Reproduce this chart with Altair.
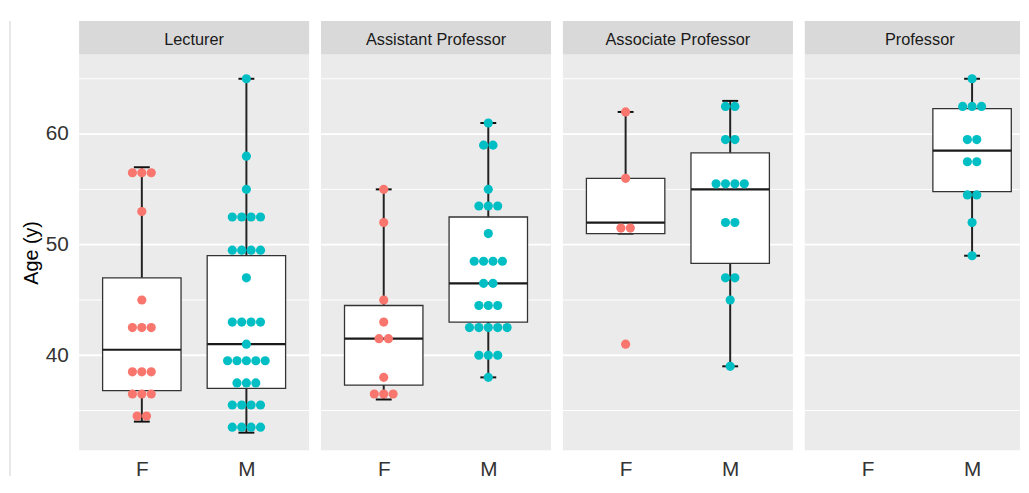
import altair as alt
import pandas as pd

# ---------------- data ----------------
ranks = ["Lecturer", "Assistant Professor", "Associate Professor", "Professor"]
sexes = ["F", "M"]
sex_colors = ["#F8766D", "#00BFC4"]

# dot values (as stacked in the dot plot)
lecturer_f = [56.5, 56.5, 56.5, 53, 45, 42.5, 42.5, 42.5, 38.5, 38.5, 38.5,
              36.5, 36.5, 36.5, 34.5, 34.5]
lecturer_m = [65, 58, 55, 52.5, 52.5, 52.5, 52.5, 49.5, 49.5, 49.5, 49.5, 47,
              43, 43, 43, 43, 41, 39.5, 39.5, 39.5, 39.5, 39.5, 37.5, 37.5, 37.5,
              35.5, 35.5, 35.5, 35.5, 33.5, 33.5, 33.5, 33.5]
assistant_f = [55, 52, 45, 43, 41.5, 41.5, 38, 36.5, 36.5, 36.5]
assistant_m = [61, 59, 59, 55, 53.5, 53.5, 53.5, 51, 48.5, 48.5, 48.5, 48.5,
               46.5, 46.5, 44.5, 44.5, 44.5, 42.5, 42.5, 42.5, 42.5, 42.5,
               40, 40, 40, 38]
associate_f = [62, 56, 51.5, 51.5, 41]
associate_m = [62.5, 62.5, 59.5, 59.5, 55.5, 55.5, 55.5, 55.5, 52, 52, 47, 47, 45, 39]
professor_f = []
professor_m = [65, 62.5, 62.5, 62.5, 59.5, 59.5, 57.5, 57.5, 54.5, 54.5, 52, 49]

# box plot statistics
box_rank = ["Lecturer", "Lecturer", "Assistant Professor", "Assistant Professor",
            "Associate Professor", "Associate Professor", "Professor"]
box_sex = ["F", "M", "F", "M", "F", "M", "M"]
whisker_low = [34, 33, 36, 38, 51, 39, 49]
q1 = [36.8, 37.0, 37.3, 43.0, 51.0, 48.3, 54.8]
median = [40.5, 41.0, 41.5, 46.5, 52.0, 55.0, 58.5]
q3 = [47.0, 49.0, 44.5, 52.5, 56.0, 58.3, 62.3]
whisker_high = [57, 65, 55, 61, 62, 63, 65]

major_grid = [40, 50, 60]
minor_grid = [35, 45, 55, 65]
y_ticks = [40, 50, 60]

# ---------------- tables ----------------
dot_lists = {
    ("Lecturer", "F"): lecturer_f, ("Lecturer", "M"): lecturer_m,
    ("Assistant Professor", "F"): assistant_f, ("Assistant Professor", "M"): assistant_m,
    ("Associate Professor", "F"): associate_f, ("Associate Professor", "M"): associate_m,
    ("Professor", "F"): professor_f, ("Professor", "M"): professor_m,
}
rows = []
for (r, s), vals in dot_lists.items():
    for v in vals:
        rows.append({"rank": r, "sex": s, "age": v})
dots_df = pd.DataFrame(rows)

box_df = pd.DataFrame({"rank": box_rank, "sex": box_sex, "lo": whisker_low,
                       "q1": q1, "med": median, "q3": q3, "hi": whisker_high})
major_df = pd.DataFrame({"v": major_grid})
minor_df = pd.DataFrame({"v": minor_grid})

FONT = "Liberation Sans"
W = 233
W_LAST = 218
H = 401
Y_DOMAIN = [31.4, 67.2]
HALF_BOX = 0.375
HALF_CAP = 0.076
DOT_STEP = 0.09


def make_panel(rank, width, first):
    xmax = 0.4 + 2.2 * width / W
    xscale = alt.Scale(domain=[0.4, xmax], nice=False, zero=False)
    yscale = alt.Scale(domain=Y_DOMAIN, nice=False, zero=False)
    xaxis = alt.Axis(values=[1, 2], labelExpr="datum.value == 1 ? 'F' : 'M'",
                     title=None, grid=False, ticks=False, tickSize=0, domain=False,
                     labelFontSize=21, labelColor="#333333", labelPadding=8,
                     labelFlush=False, labelOverlap=False, labelFont=FONT)
    if first:
        yaxis = alt.Axis(values=y_ticks, title="Age (y)", grid=False, ticks=False,
                         tickSize=0, domain=False, labelFontSize=21,
                         labelColor="#333333", labelPadding=11, labelFont=FONT,
                         titleFont=FONT, titleFontSize=20, titleFontWeight="normal",
                         titleColor="#000000", titlePadding=4)
    else:
        yaxis = None

    def X(f):
        return alt.X(f, type="quantitative", scale=xscale, axis=xaxis)

    def Y(f):
        return alt.Y(f, type="quantitative", scale=yscale, axis=yaxis)

    box = (alt.Chart(box_df).transform_filter(alt.datum.rank == rank)
           .transform_calculate(pos="datum.sex == 'F' ? 1 : 2")
           .transform_calculate(bl=f"datum.pos - {HALF_BOX}", br=f"datum.pos + {HALF_BOX}",
                                cl=f"datum.pos - {HALF_CAP}", cr=f"datum.pos + {HALF_CAP}"))

    minor = alt.Chart(minor_df).mark_rule(color="white", strokeWidth=1.0).encode(y=Y("v"))
    major = alt.Chart(major_df).mark_rule(color="white", strokeWidth=1.9).encode(y=Y("v"))

    whisk = box.mark_rule(color="#222222", strokeWidth=2.0).encode(
        x=X("pos"), y=Y("lo"), y2="hi")
    cap_hi = box.mark_rule(color="#111111", strokeWidth=2.0).encode(
        x=X("cl"), x2="cr", y=Y("hi"))
    cap_lo = box.mark_rule(color="#111111", strokeWidth=2.0).encode(
        x=X("cl"), x2="cr", y=Y("lo"))
    body = box.mark_bar(fill="white", stroke="#333333", strokeWidth=1.3).encode(
        x=X("bl"), x2="br", y=Y("q1"), y2="q3")
    med = box.mark_rule(color="#1a1a1a", strokeWidth=2.2).encode(
        x=X("bl"), x2="br", y=Y("med"))

    dots = (alt.Chart(dots_df).transform_filter(alt.datum.rank == rank)
            .transform_window(rn="row_number()", groupby=["sex", "age"])
            .transform_joinaggregate(n="count()", groupby=["sex", "age"])
            .transform_calculate(pos="datum.sex == 'F' ? 1 : 2")
            .transform_calculate(px=f"datum.pos + (datum.rn - (datum.n + 1) / 2) * {DOT_STEP}")
            .mark_circle(size=86, opacity=1)
            .encode(x=X("px"), y=Y("age"),
                    color=alt.Color("sex:N", scale=alt.Scale(domain=sexes, range=sex_colors),
                                    legend=None)))

    label_df = pd.DataFrame({"label": [rank]})
    strip = alt.Chart(label_df).mark_rect(color="#D9D9D9").encode(
        x=alt.value(0), x2=alt.value(width), y=alt.value(-34), y2=alt.value(0))
    strip_text = alt.Chart(label_df).mark_text(
        font=FONT, fontSize=16.5, color="#1A1A1A", baseline="alphabetic", align="center"
    ).encode(text="label:N", x=alt.value(W / 2), y=alt.value(-10))

    layers = [minor, major, whisk, cap_hi, cap_lo, body, med, dots, strip, strip_text]
    if first:
        edge = alt.Chart(label_df).mark_rule(color="#E8E8E8", strokeWidth=2).encode(
            x=alt.value(-70), y=alt.value(-34), y2=alt.value(H + 26))
        layers.append(edge)
    return alt.layer(*layers).properties(width=width, height=H)


panels = [make_panel(r, W_LAST if i == 3 else W, i == 0) for i, r in enumerate(ranks)]

chart = (alt.hconcat(*panels, spacing=10)
         .properties(padding={"left": 1, "top": 9, "right": 0, "bottom": 0})
         .configure(font=FONT, background="white")
         .configure_view(fill="#EBEBEB", stroke=None))

chart.save("out.html", embed_options={"renderer": "svg", "actions": False})
